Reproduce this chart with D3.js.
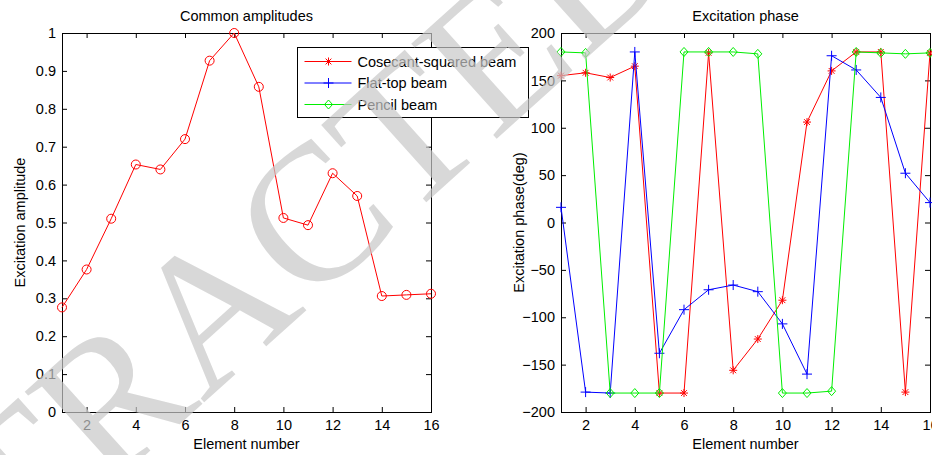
<!DOCTYPE html>
<html>
<head>
<meta charset="utf-8">
<script src="https://cdn.jsdelivr.net/npm/d3@7/dist/d3.min.js"></script>
<style>
  html, body { margin: 0; padding: 0; background: #fff; }
  svg { display: block; font-family: "Liberation Sans", Arial, sans-serif; }
</style>
</head>
<body>
<div id="chart"></div>
<script>
// Figure size
const width = 932;
const height = 455;
const fontSize = 14.5;

// Data
const elements = [1, 2, 3, 4, 5, 6, 7, 8, 9, 10, 11, 12, 13, 14, 15, 16];
const amplitude = [0.276, 0.376, 0.51, 0.653, 0.64, 0.72, 0.927, 1.0, 0.858, 0.512, 0.493, 0.63, 0.57, 0.306, 0.309, 0.312];
const cosecantPhase = [155, 158, 153, 165, -180, -180, 179, -156, -123, -82, 106, 160, 180, 180, -179, 179];
const flatTopPhase = [16, -179, -180, 180, -138, -92, -71, -66, -73, -107, -160, 176, 161, 132, 52, 21];
const pencilPhase = [180, 179, -180, -180, -180, 180, 180, 180, 178, -180, -180, -178, 180, 179, 178, 179];

// Tick values
const xTicks = [2, 4, 6, 8, 10, 12, 14, 16];
const ampTicks = [0, 0.1, 0.2, 0.3, 0.4, 0.5, 0.6, 0.7, 0.8, 0.9, 1];
const phaseTicks = [-200, -150, -100, -50, 0, 50, 100, 150, 200];

// Legend entries
const legendNames = ['Cosecant-squared beam', 'Flat-top beam', 'Pencil beam'];
const legendColors = ['#ff0000', '#0000ff', '#00ee00'];
const legendMarkers = ['star', 'plus', 'diamond'];

const svg = d3.select('#chart')
    .append('svg')
    .attr('width', width)
    .attr('height', height);

// marker path around (0,0)
function markerPath(type) {
    if (type === 'plus') return 'M-5,0H5M0,-5V5';
    if (type === 'diamond') return 'M0,-4.5L4,0L0,4.5L-4,0Z';
    const s = 4, d = 2.9;
    return `M${-s},0H${s}M0,${-s}V${s}M${-d},${-d}L${d},${d}M${-d},${d}L${d},${-d}`;
}

// one MATLAB style axes box
function drawAxes(left, right, top, bottom, yDomain, yTicks, title, yLabel) {
    const x = d3.scaleLinear().domain([1, 16]).range([left, right]);
    const y = d3.scaleLinear().domain(yDomain).range([bottom, top]);
    const g = svg.append('g');

    const fmt = d3.format('~g');
    const axes = [
        [d3.axisBottom(x).tickValues(xTicks).tickFormat(fmt).tickPadding(8), `translate(0,${bottom})`],
        [d3.axisTop(x).tickValues(xTicks).tickFormat(''), `translate(0,${top})`],
        [d3.axisLeft(y).tickValues(yTicks).tickFormat(fmt).tickPadding(6), `translate(${left},0)`],
        [d3.axisRight(y).tickValues(yTicks).tickFormat(''), `translate(${right},0)`]
    ];
    axes.forEach(([ax, tr]) => {
        const a = g.append('g')
            .attr('transform', tr)
            .call(ax.tickSizeInner(-5).tickSizeOuter(0));
        a.select('.domain').remove();
        a.selectAll('line').attr('stroke', '#000');
        a.selectAll('text')
            .attr('fill', '#000')
            .attr('font-size', fontSize)
            .attr('font-family', '"Liberation Sans", Arial, sans-serif');
    });

    g.append('rect')
        .attr('x', left + 0.5)
        .attr('y', top + 0.5)
        .attr('width', right - left)
        .attr('height', bottom - top)
        .attr('fill', 'none')
        .attr('stroke', '#000');

    g.append('text')
        .attr('x', (left + right) / 2)
        .attr('y', 21)
        .attr('text-anchor', 'middle')
        .attr('font-size', fontSize)
        .text(title);

    g.append('text')
        .attr('x', (left + right) / 2)
        .attr('y', 449)
        .attr('text-anchor', 'middle')
        .attr('font-size', fontSize)
        .text('Element number');

    g.append('text')
        .attr('transform', `translate(${left - 37},${(top + bottom) / 2}) rotate(-90)`)
        .attr('text-anchor', 'middle')
        .attr('font-size', fontSize)
        .text(yLabel);

    return { x, y, g };
}

// Left: common amplitudes
const amp = drawAxes(62, 431, 33, 412, [0, 1], ampTicks, 'Common amplitudes', 'Excitation amplitude');

amp.g.append('path')
    .datum(amplitude)
    .attr('fill', 'none')
    .attr('stroke', '#ff0000')
    .attr('d', d3.line().x((d, i) => amp.x(elements[i])).y(d => amp.y(d)));

amp.g.selectAll('.amp-dot')
    .data(amplitude)
    .enter()
    .append('circle')
    .attr('class', 'amp-dot')
    .attr('cx', (d, i) => amp.x(elements[i]))
    .attr('cy', d => amp.y(d))
    .attr('r', 4.5)
    .attr('fill', 'none')
    .attr('stroke', '#ff0000');

// Right: excitation phase
const ph = drawAxes(561, 930, 33, 412, [-200, 200], phaseTicks, 'Excitation phase', 'Excitation phase(deg)');
const phaseSeries = [cosecantPhase, flatTopPhase, pencilPhase];

phaseSeries.forEach((series, k) => {
    ph.g.append('path')
        .datum(series)
        .attr('fill', 'none')
        .attr('stroke', legendColors[k])
        .attr('d', d3.line().x((d, i) => ph.x(elements[i])).y(d => ph.y(d)));

    ph.g.selectAll('.mk' + k)
        .data(series)
        .enter()
        .append('path')
        .attr('class', 'mk' + k)
        .attr('transform', (d, i) => `translate(${ph.x(elements[i])},${ph.y(d)})`)
        .attr('d', markerPath(legendMarkers[k]))
        .attr('fill', 'none')
        .attr('stroke', legendColors[k]);
});

// Legend box (sits over the left axes)
const legend = svg.append('g').attr('transform', 'translate(297.5,47.5)');
legend.append('rect')
    .attr('width', 231)
    .attr('height', 70)
    .attr('fill', '#fff')
    .attr('stroke', '#000');

const item = legend.selectAll('.legend-item')
    .data(legendNames)
    .enter()
    .append('g')
    .attr('class', 'legend-item')
    .attr('transform', (d, i) => `translate(0,${14 + i * 21.5})`);

item.append('line')
    .attr('x1', 7).attr('x2', 54)
    .attr('stroke', (d, i) => legendColors[i]);

item.append('path')
    .attr('transform', 'translate(31,0)')
    .attr('d', (d, i) => markerPath(legendMarkers[i]))
    .attr('fill', 'none')
    .attr('stroke', (d, i) => legendColors[i]);

item.append('text')
    .attr('x', 60)
    .attr('dy', '0.35em')
    .attr('font-size', fontSize)
    .text(d => d);

// Watermark over the whole figure
svg.append('text')
    .attr('transform', 'translate(216,305) rotate(-42)')
    .attr('text-anchor', 'middle')
    .attr('dy', '0.33em')
    .attr('font-family', '"Liberation Serif", "Times New Roman", serif')
    .attr('font-size', 195)
    .attr('fill', '#c8c8c8')
    .attr('opacity', 0.7)
    .text('RETRACTED');
</script>
</body>
</html>
